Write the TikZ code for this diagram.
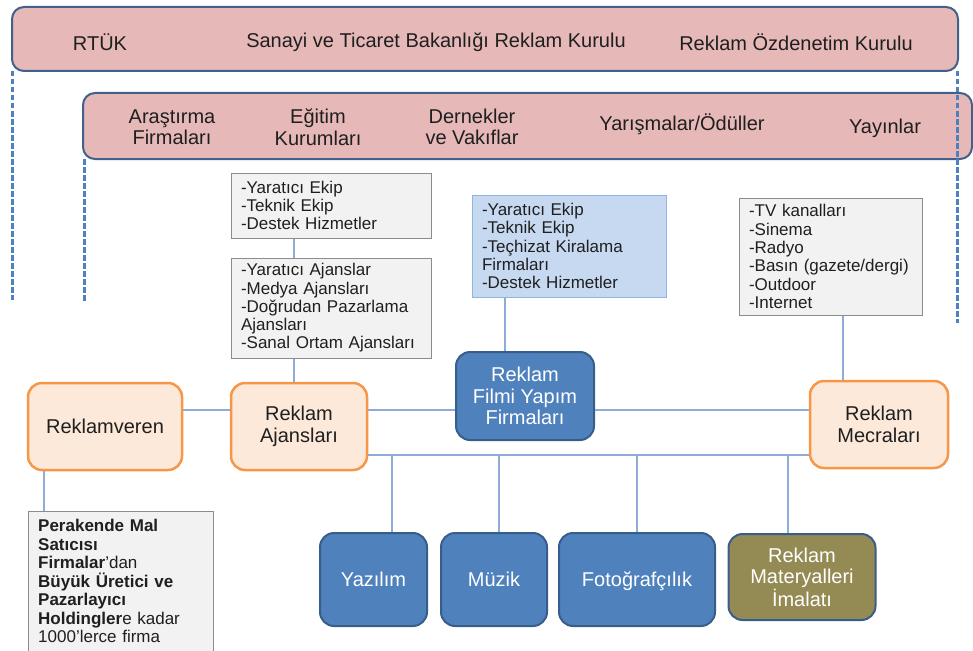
\documentclass[tikz,border=0pt]{standalone}
\usepackage{fontspec}
\setmainfont{Liberation Sans}
\definecolor{pinkfill}{HTML}{E6B9B8}
\definecolor{navyedge}{HTML}{41618C}
\definecolor{grayfill}{HTML}{F2F2F2}
\definecolor{grayedge}{HTML}{8C8C8C}
\definecolor{bluefill}{HTML}{C6D9F1}
\definecolor{blueedge}{HTML}{8EB4E3}
\definecolor{orfill}{HTML}{FDE9D9}
\definecolor{oredge}{HTML}{F79646}
\definecolor{darkblue}{HTML}{4F81BD}
\definecolor{darkblueedge}{HTML}{385D8A}
\definecolor{olive}{HTML}{948A54}
\definecolor{linkblue}{HTML}{8EACD6}
\definecolor{txt}{HTML}{1F1F1F}
\tikzset{
  bigtext/.style={font=\fontsize{20}{21.5}\selectfont, text=txt, align=center},
  smalltext/.style={font=\fontsize{17}{18.3}\selectfont, text=txt, align=left},
  band/.style={draw=navyedge, line width=2pt, fill=pinkfill, rounded corners=12pt},
  listbox/.style={draw=grayedge, line width=1pt, fill=grayfill, smalltext, inner sep=0pt},
  bluelist/.style={draw=blueedge, line width=1pt, fill=bluefill, smalltext, inner sep=0pt},
  orbox/.style={draw=oredge, line width=2.5pt, fill=orfill, rounded corners=14pt, bigtext},
  bluebox/.style={draw=darkblueedge, line width=2pt, fill=darkblue, rounded corners=14pt, bigtext, text=white},
  olivebox/.style={draw=darkblueedge, line width=2pt, fill=olive, rounded corners=14pt, bigtext, text=white},
  oneline/.style={text height=14.5pt, text depth=0.5pt},
  link/.style={draw=linkblue, line width=1.3pt},
  dashlink/.style={draw=darkblue, line width=3pt, dash pattern=on 5.5pt off 2.5pt},
}
\begin{document}
\begin{tikzpicture}[x=1pt,y=-1pt]
\useasboundingbox (0,0) rectangle (973,650);

% top bands
\node[band, minimum width=946pt, minimum height=64pt] (top) at (485,39) {};
\node[bigtext] (rtuk) at (100,42) {RTÜK};
\node[bigtext] (sanayi) at (436,42) {Sanayi ve Ticaret Bakanlığı Reklam Kurulu};
\node[bigtext] (ozden) at (796,42) {Reklam Özdenetim Kurulu};

\node[band, minimum width=889pt, minimum height=66pt] (sec) at (527.5,126) {};
\node[bigtext] (aras) at (172,127) {Araştırma\\Firmaları};
\node[bigtext] (egit) at (318,127) {Eğitim\\Kurumları};
\node[bigtext] (dern) at (472,127) {Dernekler\\ve Vakıflar};
\node[bigtext] (yaris) at (682,124) {Yarışmalar/Ödüller};
\node[bigtext] (yayin) at (885,128) {Yayınlar};

% dashed side lines
\coordinate (d1a) at (12,71);  \coordinate (d1b) at (12,300);
\coordinate (d2a) at (84,159); \coordinate (d2b) at (84,302);
\coordinate (d3a) at (957,71); \coordinate (d3b) at (957,323);
\draw[dashlink] (d1a) -- (d1b);
\draw[dashlink] (d2a) -- (d2b);
\draw[dashlink] (d3a) -- (d3b);

% list boxes
\node[listbox, minimum width=200pt, minimum height=65pt, text width=180pt] (g1) at (331,205.5)
  {-Yaratıcı Ekip\\-Teknik Ekip\\-Destek Hizmetler};
\node[listbox, minimum width=200pt, minimum height=100pt, text width=180pt] (g2) at (331,308)
  {-Yaratıcı Ajanslar\\-Medya Ajansları\\-Doğrudan Pazarlama\\Ajansları\\-Sanal Ortam Ajansları};
\node[bluelist, minimum width=194pt, minimum height=102pt, text width=174pt] (b1) at (569,246)
  {-Yaratıcı Ekip\\-Teknik Ekip\\-Teçhizat Kiralama\\Firmaları\\-Destek Hizmetler};
\node[listbox, minimum width=183pt, minimum height=117pt, text width=163pt] (g3) at (830.5,256.5)
  {-TV kanalları\\-Sinema\\-Radyo\\-Basın (gazete/dergi)\\-Outdoor\\-Internet};

% main boxes
\node[orbox, minimum width=154pt, minimum height=87pt] (o1) at (105,426.5) {Reklamveren};
\node[orbox, minimum width=136pt, minimum height=87pt] (o2) at (299,426.5) {Reklam\\Ajansları};
\node[orbox, minimum width=138pt, minimum height=87pt] (o3) at (879,424.5) {Reklam\\Mecraları};
\node[bluebox, minimum width=138pt, minimum height=88pt] (film) at (525,396) {Reklam\\Filmi Yapım\\Firmaları};

% bottom boxes
\node[bluebox, oneline, minimum width=107pt, minimum height=93pt] (yaz) at (373.5,579.5) {Yazılım};
\node[bluebox, oneline, minimum width=106pt, minimum height=93pt] (muz) at (494,579.5) {Müzik};
\node[bluebox, oneline, minimum width=156pt, minimum height=93pt] (foto) at (637,579.5) {Fotoğrafçılık};
\node[olivebox, minimum width=147pt, minimum height=86pt] (mat) at (802,577) {Reklam\\Materyalleri\\İmalatı};

% advertiser box
\node[draw=grayedge, line width=1pt, fill=grayfill, minimum width=185pt, minimum height=155pt, anchor=north west, inner sep=0pt] (g4) at (28,511) {};
\node[smalltext, anchor=north west, inner xsep=10pt, inner ysep=8pt, text width=170pt,
      font=\fontsize{17}{18.5}\selectfont] (g4t) at (g4.north west)
  {\textbf{Perakende Mal}\\\textbf{Satıcısı}\\\textbf{Firmalar}’dan\\\textbf{Büyük Üretici ve}\\\textbf{Pazarlayıcı}\\\textbf{Holdingler}e kadar\\1000’lerce firma};

% connectors
\coordinate (xa) at (294,0);
\coordinate (xb) at (505,0);
\coordinate (xc) at (843,0);
\coordinate (xd) at (44,0);
\coordinate (ya) at (0,410);
\coordinate (yb) at (0,455);
\coordinate (x1) at (392,0);
\coordinate (x2) at (499,0);
\coordinate (x3) at (637,0);
\coordinate (x4) at (788,0);

\draw[link] (g1.south -| xa) -- (g2.north -| xa);
\draw[link] (g2.south -| xa) -- (o2.north -| xa);
\draw[link] (b1.south -| xb) -- (film.north -| xb);
\draw[link] (g3.south -| xc) -- (o3.north -| xc);
\draw[link] (o1.east |- ya) -- (o2.west |- ya);
\draw[link] (o2.east |- ya) -- (film.west |- ya);
\draw[link] (film.east |- ya) -- (o3.west |- ya);
\draw[link] (o2.east |- yb) -- (o3.west |- yb);
\draw[link] (x1 |- yb) -- (yaz.north -| x1);
\draw[link] (x2 |- yb) -- (muz.north -| x2);
\draw[link] (x3 |- yb) -- (foto.north -| x3);
\draw[link] (x4 |- yb) -- (mat.north -| x4);
\draw[link] (o1.south -| xd) -- (g4.north -| xd);
\end{tikzpicture}
\end{document}
